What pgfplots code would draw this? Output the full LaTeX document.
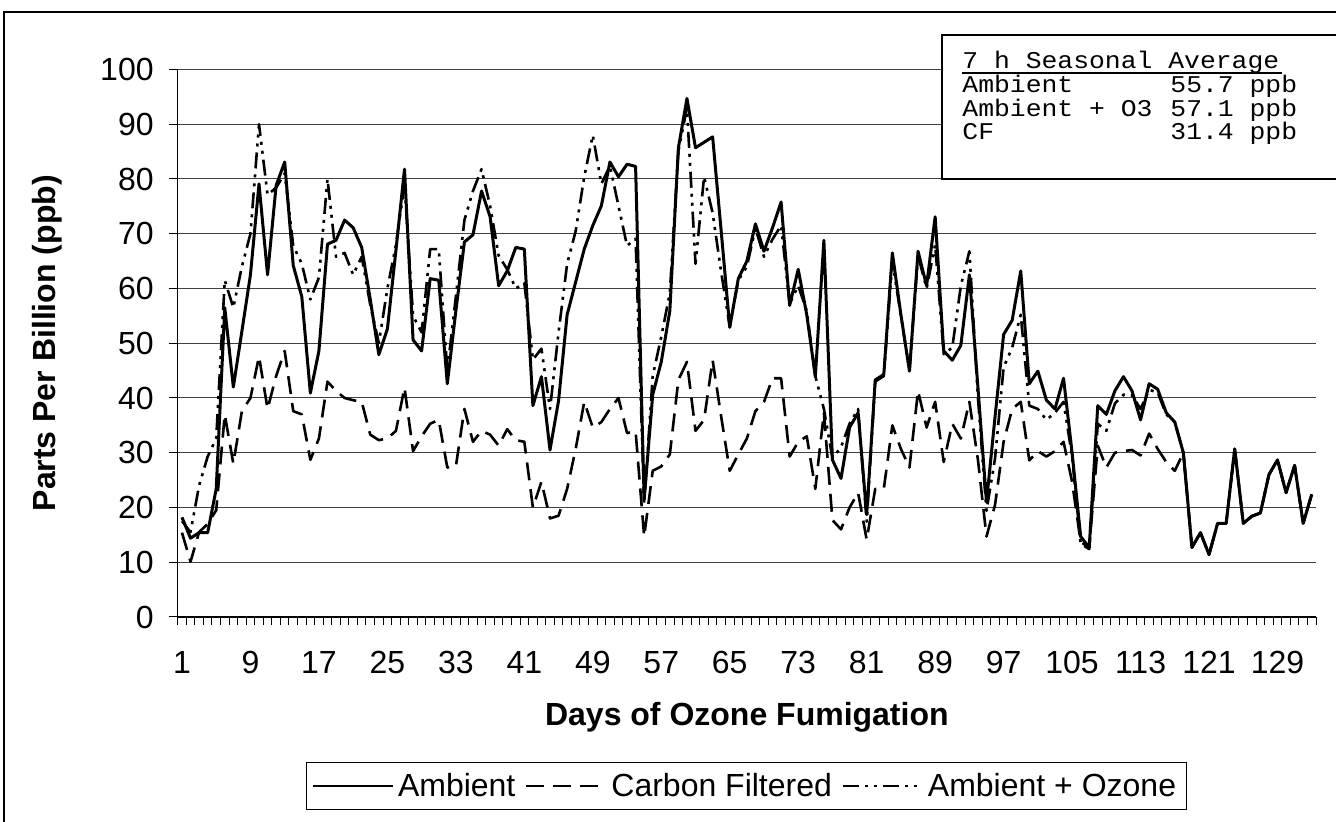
\documentclass[border=0pt]{standalone}
\usepackage{pgfplots}
\pgfplotsset{compat=1.18}
\usepackage{pgfplotstable}
\usepackage{fontspec}
\setmainfont{Liberation Sans}
\newfontfamily\mono[FakeStretch=1.1]{Liberation Mono}

\pgfplotstableread{
day amb cf ao
1 18.2 15.4 17.5
2 14.4 10.1 15.5
3 15.4 15.5 24
4 15.4 17 29.3
5 23.4 19.5 32.6
6 56.5 37 61.5
7 42 28 56.5
8 52.2 37.6 64
9 62.5 40 70
10 79.1 47.6 90
11 62.5 38 77.1
12 78.8 44 78.4
13 83.1 48.6 81
14 64.2 37.6 67.8
15 58.5 37 64.5
16 40.9 28.7 58
17 48.6 32.6 62
18 68.1 43 80
19 68.8 41.3 65.8
20 72.5 40 66.5
21 71.1 39.6 62.5
22 67.5 39.3 65.8
23 58 33.3 57
24 47.9 32.3 50
25 52.6 32.6 60
26 67 34 68
27 81.8 41.9 79
28 50.6 30.3 55
29 48.6 33 52
30 61.8 35.3 67.2
31 61.5 36 67.2
32 42.6 27.3 45
33 55.9 27.5 58.5
34 68.5 38 72.5
35 69.8 32 77.8
36 77.8 34 81.8
37 73.1 33.3 75.1
38 60.5 31.3 66
39 63.2 34.3 63.5
40 67.5 32.3 60
41 67.2 32 61
42 38.6 20 47
43 43.9 24.7 49
44 30.5 18 38
45 39.5 18.5 52
46 55.2 23.4 64.5
47 61.2 30.7 70.5
48 67.2 39.3 80.4
49 71.5 34.6 88
50 75.1 35.6 79.1
51 83.1 38 82.4
52 80.4 40 75.1
53 82.7 33.6 67.8
54 82.3 33.9 69.1
55 21.4 14.7 20.7
56 40.6 26.7 44
57 46.6 27.5 51.2
58 55.9 29.7 59.2
59 85.7 43.3 85.1
60 94.7 46.6 93
61 85.7 34 64.5
62 86.7 36 80.4
63 87.7 46.9 73.8
64 70.5 36.6 63
65 52.9 26.7 53
66 61.8 29.7 61.5
67 65 32.6 64
68 71.8 37.6 71
69 66.8 39.3 65.8
70 71.1 43.6 69
71 75.8 43.6 71.5
72 56.9 29.3 57.2
73 63.5 32 60.5
74 55.2 33 55.9
75 43.9 23.4 44
76 68.8 37.3 38
77 28.7 17.7 29
78 25.3 16 31
79 34.6 20 35.3
80 37.3 22.7 38
81 18.7 14.1 17.4
82 43.3 23.4 43
83 44.3 23.4 44
84 66.5 35 65
85 55.2 30.7 55
86 44.9 27.3 45
87 66.8 41.3 66
88 60.5 34.6 60
89 73.1 39.3 68
90 48.6 28.3 48
91 46.9 35.3 49.2
92 49.6 32.6 60.5
93 62.5 39.3 66.8
94 41.9 28.7 40
95 21 14.7 19.4
96 36.6 20.5 29
97 51.6 32 45.6
98 54.2 38 49.2
99 63.2 39.3 55.2
100 42.6 28.6 38.6
101 44.9 30.3 38
102 39.6 29.3 36
103 38 30.3 37.3
104 43.6 32 39.3
105 30 24.7 29.3
106 14.7 13.7 13.4
107 12.7 12.7 12.4
108 38.6 31.3 35.3
109 37 27.3 34
110 41.3 30 39
111 43.9 30.3 40.6
112 41.3 30.5 40.5
113 36 29.5 38
114 42.6 33.5 41.5
115 41.6 30.7 41
116 37.3 28.3 37
117 35.6 26.7 35.6
118 30 30 30
119 12.7 12.7 12.7
120 15.4 15.4 15.4
121 11.4 11.4 11.4
122 17.1 17.1 17.1
123 17.1 17.1 17.1
124 30.7 30.7 30.7
125 17.1 17.1 17.1
126 18.4 18.4 18.4
127 19 19 19
128 26 26 26
129 28.7 28.7 28.7
130 22.7 22.7 22.7
131 27.7 27.7 27.7
132 17.1 17.1 17.1
133 22.4 22.4 22.4
}\datatable

\begin{document}
\begin{tikzpicture}
\useasboundingbox (0,0) rectangle (668pt,411pt);
\begin{scope}
\clip (0,0) rectangle (668pt,411pt);
\draw[line width=1pt] (2pt,-10pt) -- (2pt,405pt) -- (680pt,405pt);
\begin{axis}[
  at={(88.85pt,102.5pt)}, anchor=south west,
  scale only axis, width=569.15pt, height=273.75pt,
  xmin=0.5, xmax=133.5, ymin=0, ymax=100,
  axis x line*=bottom, axis y line*=left,
  axis line style={black, line width=0.6pt},
  xtick={1,9,...,129},
  minor xtick={0.5,1.5,...,133.5},
  major x tick style={draw=none},
  minor x tick style={black, line width=0.5pt},
  minor tick length=4pt,
  ytick={0,10,...,100},
  major y tick style={black, line width=0.5pt},
  major tick length=4.5pt,
  tick align=outside,
  ymajorgrids,
  grid style={black!75, line width=0.5pt},
  /pgf/number format/assume math mode=true,
  tick label style={font=\fontsize{16}{19}\selectfont},
  xticklabel style={yshift=-9pt},
  yticklabel style={xshift=-4pt},
  xlabel={Days of Ozone Fumigation},
  ylabel={Parts Per Billion (ppb)},
  label style={font=\bfseries\fontsize{16}{19}\selectfont},
  xlabel style={at={(axis description cs:0.5,-0.1826)}, anchor=center},
  ylabel style={at={(axis description cs:-0.1148,0.5)}, anchor=center},
  legend columns=3,
  legend style={at={(0.4993,-0.3087)}, anchor=center, draw=black, line width=0.5pt,
    font=\fontsize{16}{19}\selectfont, inner xsep=3pt, inner ysep=3pt,
    /tikz/every even column/.append style={column sep=3pt},
    nodes={inner sep=2pt}},
  legend image code/.code={\draw[#1, line width=1pt] (0pt,0pt) -- (40pt,0pt);},
  every axis plot/.append style={line join=round},
]
\addplot[black, line width=1.5pt] table[x=day, y=amb] {\datatable};
\addlegendentry{Ambient}
\addplot[black, line width=1.3pt, dash pattern=on 9pt off 4.5pt] table[x=day, y=cf] {\datatable};
\addlegendentry{Carbon Filtered}
\addplot[black, line width=1.3pt, dash pattern=on 8pt off 3pt on 1.5pt off 3pt on 1.5pt off 3pt] table[x=day, y=ao] {\datatable};
\addlegendentry{Ambient + Ozone}
\end{axis}
\draw[line width=1pt, fill=white] (471pt,393.5pt) rectangle (680pt,321.5pt);
\begin{scope}[every node/.style={inner sep=0pt, font=\mono\fontsize{12}{15}\selectfont}]
\node[anchor=base west] at (481pt,376.6pt) {7 h Seasonal Average};
\draw[line width=1pt] (481pt,374.3pt) -- (641pt,374.3pt);
\node[anchor=base west] at (481pt,364.8pt) {Ambient};
\node[anchor=base west] at (585pt,364.8pt) {55.7 ppb};
\node[anchor=base west] at (481pt,352.9pt) {Ambient + O3};
\node[anchor=base west] at (585pt,352.9pt) {57.1 ppb};
\node[anchor=base west] at (481pt,341pt) {CF};
\node[anchor=base west] at (585pt,341pt) {31.4 ppb};
\end{scope}
\end{scope}
\end{tikzpicture}
\end{document}
